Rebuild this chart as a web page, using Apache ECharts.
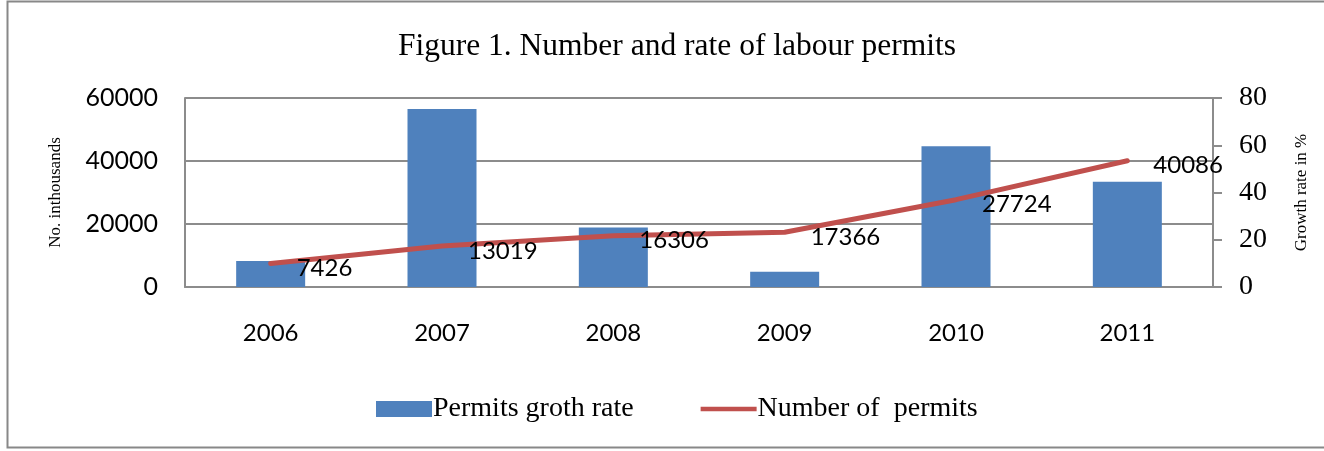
<!DOCTYPE html>
<html>
<head>
<meta charset="utf-8">
<script src="https://cdn.jsdelivr.net/npm/echarts@6/dist/echarts.min.js"></script>
<style>
html,body{margin:0;padding:0;background:#fff;}
#c{width:1324px;height:451px;}
</style>
</head>
<body>
<div id="c"></div>
<script>
const categories = ['2006', '2007', '2008', '2009', '2010', '2011'];
const growthRate = [11, 75.3, 25.2, 6.5, 59.6, 44.6];
const permits = [7426, 13019, 16306, 17366, 27724, 40086];
const leftTicks = [0, 20000, 40000, 60000];
const rightTicks = [0, 20, 40, 60, 80];

const chart = echarts.init(document.getElementById('c'), null, {renderer: 'canvas'});
const gray = '#8c8c8c';
const sans = 'Lato';
const serif = 'Liberation Serif';

chart.setOption({
  animation: false,
  backgroundColor: '#fff',
  title: {
    text: 'Figure 1. Number and rate of labour permits',
    left: 393,
    top: 26,
    textStyle: {fontFamily: serif, fontSize: 31.5, fontWeight: 'normal', color: '#000'}
  },
  graphic: [{
    type: 'rect',
    shape: {x: 7.5, y: 1.5, width: 1340, height: 446},
    style: {fill: 'none', stroke: '#888', lineWidth: 2},
    silent: true
  }],
  legend: {
    top: 390,
    left: 371,
    itemGap: 67,
    itemWidth: 56,
    itemHeight: 16,
    textStyle: {fontFamily: serif, fontSize: 28, color: '#000', padding: [0, 0, 0, -4]},
    data: [
      {name: 'Permits groth rate', icon: 'rect'},
      {name: 'Number of  permits', icon: 'path://M0,0 L60,0 L60,5 L0,5 Z'}
    ]
  },
  grid: {left: 185, right: 111, top: 98, bottom: 164},
  xAxis: {
    type: 'category',
    data: categories,
    axisLine: {lineStyle: {color: gray, width: 2}},
    axisTick: {show: false},
    axisLabel: {fontFamily: sans, fontSize: 24, color: '#000', margin: 34}
  },
  yAxis: [{
    type: 'value',
    min: leftTicks[0],
    max: leftTicks[leftTicks.length - 1],
    interval: 20000,
    name: 'No. inthousands',
    nameLocation: 'middle',
    nameRotate: 90,
    nameGap: 121,
    nameTextStyle: {fontFamily: serif, fontSize: 17, color: '#000'},
    axisLine: {show: true, lineStyle: {color: gray, width: 2}},
    axisTick: {show: false},
    axisLabel: {fontFamily: sans, fontSize: 25, color: '#000', margin: 27, formatter: v => String(v)},
    splitLine: {show: true, lineStyle: {color: gray, width: 2}}
  }, {
    type: 'value',
    min: rightTicks[0],
    max: rightTicks[rightTicks.length - 1],
    interval: 20,
    position: 'right',
    name: 'Growth rate in %',
    nameLocation: 'middle',
    nameRotate: 90,
    nameGap: 80,
    nameTextStyle: {fontFamily: serif, fontSize: 17, color: '#000'},
    axisLine: {show: true, lineStyle: {color: gray, width: 2}},
    axisTick: {show: true, length: 9, lineStyle: {color: gray, width: 2}},
    axisLabel: {fontFamily: serif, fontSize: 28, color: '#000', margin: 26},
    splitLine: {show: false}
  }],
  series: [{
    name: 'Permits groth rate',
    type: 'bar',
    yAxisIndex: 1,
    data: growthRate,
    barWidth: 69,
    itemStyle: {color: '#4f81bd'}
  }, {
    name: 'Number of  permits',
    type: 'line',
    yAxisIndex: 0,
    data: permits,
    showSymbol: true,
    symbol: 'circle',
    symbolSize: 0.01,
    lineStyle: {color: '#c0504d', width: 5, cap: 'round'},
    itemStyle: {color: '#c0504d'},
    label: {
      show: true,
      position: 'right',
      distance: 26,
      offset: [0, 5],
      fontFamily: sans,
      fontSize: 24,
      color: '#000'
    },
    z: 5
  }]
});
</script>
</body>
</html>
